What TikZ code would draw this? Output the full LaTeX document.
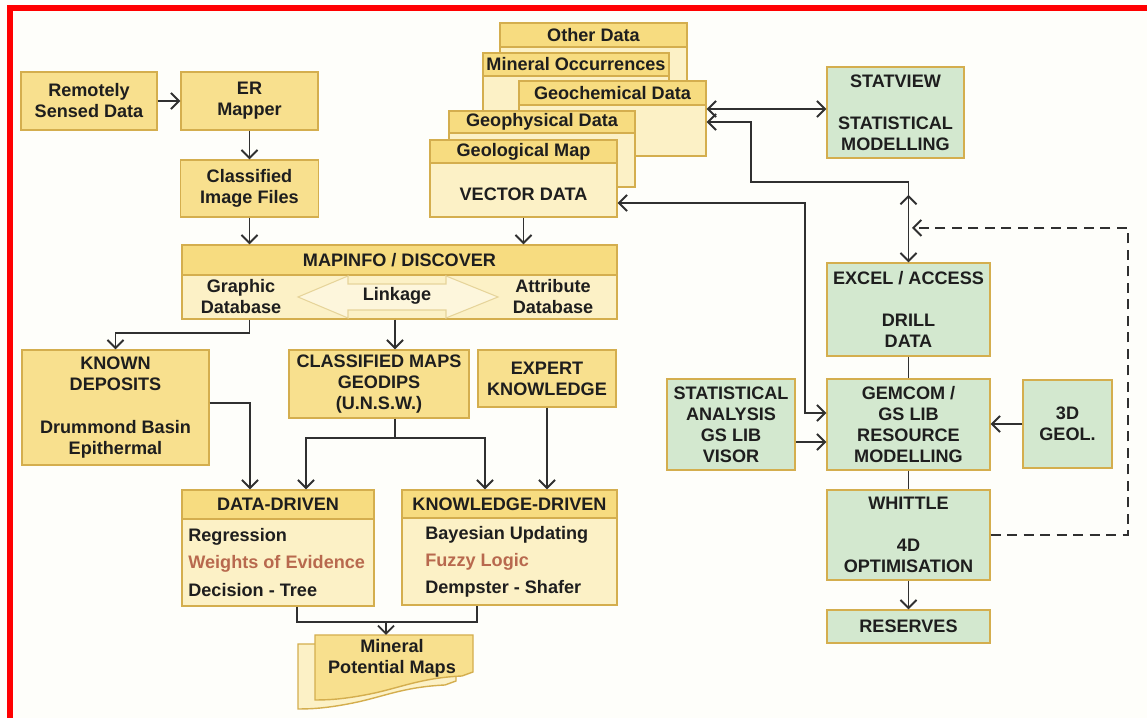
\documentclass[tikz,border=0pt]{standalone}
\usepackage{fontspec}
\setmainfont{Liberation Sans}
\usetikzlibrary{arrows.meta}
\definecolor{framered}{HTML}{FF0000}
\definecolor{paper}{HTML}{FEFEFA}
\definecolor{boxyellow}{HTML}{F8E08E}
\definecolor{headyellow}{HTML}{F7DC80}
\definecolor{bodyyellow}{HTML}{FCF1C6}
\definecolor{boxgreen}{HTML}{D3E8CF}
\definecolor{boxedge}{HTML}{D4AE4E}
\definecolor{inkgrey}{HTML}{1E1E1E}
\definecolor{linegrey}{HTML}{303030}
\definecolor{rusttext}{HTML}{B8694E}
\definecolor{linkfill}{HTML}{FDF6DC}
\definecolor{linkedge}{HTML}{E6D49A}
\tikzset{
  >={Straight Barb[length=1.6mm,width=3.2mm,line width=1.1pt]},
  box/.style={draw=boxedge, line width=0.8pt, inner sep=0pt, align=center, text=inkgrey, font=\bfseries\fontsize{10.3}{12}\selectfont},
  ybox/.style={box, fill=boxyellow},
  gbox/.style={box, fill=boxgreen},
  pbox/.style={box, fill=bodyyellow},
  headband/.style={box, fill=headyellow, anchor=north},
  boxtext/.style={inner sep=0pt, align=center, text=inkgrey, font=\bfseries\fontsize{10.3}{12}\selectfont},
  listtext/.style={inner sep=0pt, align=left, anchor=west, text=inkgrey, font=\bfseries\fontsize{10.3}{15.4}\selectfont},
  link/.style={draw=linegrey, line width=1.1pt},
  dashlink/.style={link, dash pattern=on 0.2cm off 0.13cm},
  docfront/.style={draw=boxedge, fill=boxyellow, line width=0.8pt},
  docback/.style={draw=boxedge, fill=bodyyellow, line width=0.8pt},
}
\begin{document}
\begin{tikzpicture}
\useasboundingbox (0,0) rectangle (22.940,14.360);
\fill[paper] (0,0) rectangle (22.940,14.360);
\fill[framered] (0.140,0) rectangle (0.260,14.260);
\fill[framered] (0.140,14.140) rectangle (22.940,14.260);

\node[ybox, minimum width=2.720cm, minimum height=1.160cm] (rsd) at (1.780,12.340) {Remotely\\Sensed Data};
\node[ybox, minimum width=2.740cm, minimum height=1.160cm] (erm) at (4.990,12.340) {ER\\Mapper};
\node[ybox, minimum width=2.760cm, minimum height=1.140cm] (cif) at (4.990,10.590) {Classified\\Image Files};

\node[pbox, minimum width=3.740cm, minimum height=1.540cm] (othercard) at (11.870,13.130) {};
\node[headband, minimum width=3.740cm, minimum height=0.480cm] (otherhead) at (othercard.north) {Other Data};
\node[pbox, minimum width=3.720cm, minimum height=1.300cm] (minocccard) at (11.520,12.650) {};
\node[headband, minimum width=3.720cm, minimum height=0.460cm] (minocchead) at (minocccard.north) {Mineral Occurrences};
\node[pbox, minimum width=3.740cm, minimum height=1.500cm] (geochemcard) at (12.250,11.990) {};
\node[headband, minimum width=3.740cm, minimum height=0.480cm] (geochemhead) at (geochemcard.north) {Geochemical Data};
\node[pbox, minimum width=3.720cm, minimum height=1.520cm] (geophyscard) at (10.840,11.380) {};
\node[headband, minimum width=3.720cm, minimum height=0.440cm] (geophyshead) at (geophyscard.north) {Geophysical Data};
\node[pbox, minimum width=3.740cm, minimum height=1.540cm] (geologcard) at (10.470,10.790) {};
\node[headband, minimum width=3.740cm, minimum height=0.460cm] (geologhead) at (geologcard.north) {Geological Map};
\node[boxtext] (vectordata) at (10.470,10.480) {VECTOR DATA};

\node[pbox, minimum width=8.700cm, minimum height=1.480cm] (mapinfo) at (7.990,8.720) {};
\node[headband, minimum width=8.700cm, minimum height=0.600cm] (mapinfohead) at (mapinfo.north) {MAPINFO / DISCOVER};
\draw[draw=linkedge, fill=linkfill, line width=0.6pt] (5.960,8.420) -- (6.960,8.840) -- (6.960,8.680) -- (8.920,8.680) -- (8.920,8.840) -- (9.960,8.420) -- (8.920,8.000) -- (8.920,8.160) -- (6.960,8.160) -- (6.960,8.000) -- cycle;
\node[boxtext] (graphicdb) at (4.820,8.420) {Graphic\\Database};
\node[boxtext] (linkage) at (7.940,8.440) {Linkage};
\node[boxtext] (attributedb) at (11.060,8.420) {Attribute\\Database};

\node[ybox, minimum width=3.740cm, minimum height=2.300cm] (known) at (2.310,6.210) {KNOWN\\DEPOSITS\\[12pt]Drummond Basin\\Epithermal};
\node[ybox, minimum width=3.600cm, minimum height=1.360cm] (cmaps) at (7.580,6.680) {CLASSIFIED MAPS\\GEODIPS\\(U.N.S.W.)};
\node[ybox, minimum width=2.760cm, minimum height=1.140cm] (expert) at (10.940,6.790) {EXPERT\\KNOWLEDGE};

\node[pbox, minimum width=3.840cm, minimum height=2.320cm] (ddriven) at (5.560,3.400) {};
\node[headband, minimum width=3.840cm, minimum height=0.580cm] (ddrivenhead) at (ddriven.north) {DATA-DRIVEN};
\node[listtext] (ddlist) at (3.760,3.110) {Regression\\\textcolor{rusttext}{Weights of Evidence}\\Decision - Tree};
\node[pbox, minimum width=4.300cm, minimum height=2.300cm] (kdriven) at (10.190,3.410) {};
\node[headband, minimum width=4.300cm, minimum height=0.560cm] (kdrivenhead) at (kdriven.north) {KNOWLEDGE-DRIVEN};
\node[listtext] (kdlist) at (8.500,3.120) {Bayesian Updating\\\textcolor{rusttext}{Fuzzy Logic}\\Dempster - Shafer};

\draw[docback, shift={(-0.340,-0.180)}] (6.300,1.660) -- (9.460,1.660) -- (9.460,0.920) -- (9.240,0.840) .. controls (8.400,0.800) and (8.000,0.600) .. (7.400,0.480) .. controls (6.900,0.380) and (6.600,0.360) .. (6.300,0.360) -- cycle;
\draw[docfront] (6.300,1.660) -- (9.460,1.660) -- (9.460,0.920) -- (9.240,0.840) .. controls (8.400,0.800) and (8.000,0.600) .. (7.400,0.480) .. controls (6.900,0.380) and (6.600,0.360) .. (6.300,0.360) -- cycle;
\node[boxtext] (mpm) at (7.840,1.200) {Mineral\\Potential Maps};
\coordinate (mpmtop) at (7.720,1.660);
\coordinate (ddj) at (7.720,1.920);

\node[gbox, minimum width=2.740cm, minimum height=1.820cm] (statview) at (17.910,12.110) {STATVIEW\\[12pt]STATISTICAL\\MODELLING};
\node[gbox, minimum width=3.260cm, minimum height=1.860cm] (excel) at (18.170,8.170) {EXCEL / ACCESS\\[12pt]DRILL\\DATA};
\node[gbox, minimum width=3.260cm, minimum height=1.820cm] (gemcom) at (18.170,5.870) {GEMCOM /\\GS LIB\\RESOURCE\\MODELLING};
\node[gbox, minimum width=2.560cm, minimum height=1.820cm] (stata) at (14.620,5.870) {STATISTICAL\\ANALYSIS\\GS LIB\\VISOR};
\node[gbox, minimum width=1.780cm, minimum height=1.760cm] (geol3d) at (21.350,5.880) {3D\\GEOL.};
\node[gbox, minimum width=3.260cm, minimum height=1.800cm] (whittle) at (18.170,3.660) {WHITTLE\\[12pt]4D\\OPTIMISATION};
\node[gbox, minimum width=3.260cm, minimum height=0.660cm] (reserves) at (18.170,1.830) {RESERVES};

\draw[link,->] (rsd) -- (erm);
\draw[link,->] (erm) -- (cif);
\draw[link,->] (cif.south) -- (cif.south |- mapinfo.north);
\draw[link,->] (geologcard.south) -- (geologcard.south |- mapinfo.north);
\draw[link,->] (cif.south |- mapinfo.south) -- ++(0,-0.260) -| (known.north);
\draw[link,->] ([xshift=0.320cm]cmaps.north |- mapinfo.south) -- ([xshift=0.320cm]cmaps.north);
\draw[link,->] ([yshift=0.090cm]known.east) -| ([xshift=-0.560cm]ddriven.north);
\draw[link] ([xshift=0.320cm]cmaps.south) -- ++(0,-0.380) coordinate (cmapsj);
\draw[link,->] (cmapsj) -| ([xshift=0.560cm]ddriven.north);
\draw[link,->] (cmapsj) -| ([xshift=-0.490cm]kdriven.north);
\draw[link,->] (expert.south) -- (expert.south |- kdriven.north);
\draw[link] ([xshift=0.380cm]ddriven.south) |- (ddj) -| ([xshift=-0.650cm]kdriven.south);
\draw[link,->] (ddj) -- (mpmtop);

\coordinate (drillbend) at (15.020,10.720);
\coordinate (drilltip) at (18.170,10.460);
\coordinate (vectorbend) at (16.100,6.100);
\coordinate (loopcorner) at (22.560,9.800);
\coordinate (looptip) at (18.240,9.800);
\draw[link,<->] ([yshift=0.190cm]geochemcard.east) -- ([yshift=0.190cm]geochemcard.east -| statview.west);
\draw[link,<->] ([yshift=-0.070cm]geochemcard.east) -| (drillbend) -| (excel.north);
\draw[link,->] ([yshift=-0.460cm]drilltip) -- (drilltip);
\draw[link,<->] ([yshift=-0.490cm]geologcard.east) -| (vectorbend) -- (vectorbend -| gemcom.west);
\draw[link,->] ([yshift=-0.350cm]stata.east) -- ([yshift=-0.350cm]stata.east -| gemcom.west);
\draw[link,->] (geol3d.west) -- (geol3d.west -| gemcom.east);
\draw[link] (excel) -- (gemcom);
\draw[link] (gemcom) -- (whittle);
\draw[link,->] (whittle) -- (reserves);
\draw[dashlink,->] (whittle.east) -| (loopcorner) -- (looptip);
\end{tikzpicture}
\end{document}
